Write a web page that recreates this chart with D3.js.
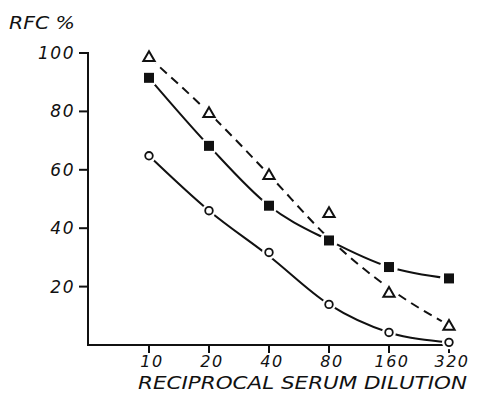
<!DOCTYPE html>
<html>
<head>
<meta charset="utf-8">
<script src="https://cdn.jsdelivr.net/npm/d3@7"></script>
<style>
  body { margin: 0; background: #fff; }
  text { font-family: "DejaVu Sans", sans-serif; font-style: italic; fill: #111; }
</style>
</head>
<body>
<svg id="chart" width="479" height="399"></svg>
<script>
const dilutions = [10, 20, 40, 80, 160, 320];
const yTicks = [20, 40, 60, 80, 100];

// measured points
const triangleValues = [98.7, 79.5, 58.3, 45.3, 18, 6.7];
const squareValues = [91.5, 68.2, 47.7, 35.8, 26.7, 22.8];
const circleValues = [64.8, 46, 31.7, 13.9, 4.3, 0.9];

// hand drawn curves, read at each dilution
const triangleCurve = [98.5, 79.5, 58.3, 36.5, 19.5, 6.7];
const squareCurve = [91.5, 68.2, 47.7, 35.8, 26.7, 22.8];
const circleCurve = [64.8, 46, 30.5, 13.9, 4.3, 0.9];

const svg = d3.select("#chart");
const ink = "#111";

const x = d3.scaleLog().base(2).domain([10, 320]).range([149, 449]);
const y = d3.scaleLinear().domain([0, 100]).range([345, 53]);
const x0 = 88;

// axes
const axisX = svg.append("g").attr("transform", "translate(0," + y(0) + ")");
axisX.append("line").attr("x1", x0 - 1).attr("x2", x(320) + 1)
  .attr("stroke", ink).attr("stroke-width", 2);
axisX.selectAll("line.tick").data(dilutions).enter().append("line")
  .attr("class", "tick")
  .attr("x1", d => x(d)).attr("x2", d => x(d))
  .attr("y1", 0).attr("y2", 8)
  .attr("stroke", ink).attr("stroke-width", 2);
axisX.selectAll("text").data(dilutions).enter().append("text")
  .attr("x", d => x(d) + 3).attr("y", 22)
  .attr("text-anchor", "middle")
  .style("font-size", "16px").style("letter-spacing", "1.5px")
  .text(d => d);

const axisY = svg.append("g").attr("transform", "translate(" + x0 + ",0)");
axisY.append("line").attr("y1", y(100) - 1).attr("y2", y(0) + 1)
  .attr("stroke", ink).attr("stroke-width", 2);
axisY.selectAll("line.tick").data(yTicks).enter().append("line")
  .attr("class", "tick")
  .attr("x1", -9).attr("x2", 0)
  .attr("y1", d => y(d)).attr("y2", d => y(d))
  .attr("stroke", ink).attr("stroke-width", 2);
axisY.selectAll("text").data(yTicks).enter().append("text")
  .attr("x", -13).attr("y", d => y(d) + 6)
  .attr("text-anchor", "end")
  .style("font-size", "17px").style("letter-spacing", "1.5px")
  .text(d => d);

svg.append("text").attr("x", 9).attr("y", 29)
  .attr("textLength", 66).attr("lengthAdjust", "spacingAndGlyphs")
  .style("font-size", "17px").text("RFC %");

svg.append("text").attr("x", 138).attr("y", 389)
  .attr("textLength", 329).attr("lengthAdjust", "spacingAndGlyphs")
  .style("font-size", "17px").text("RECIPROCAL SERUM DILUTION");

// curves
const line = d3.line()
  .x((d, i) => x(dilutions[i]))
  .y(d => y(d))
  .curve(d3.curveMonotoneX);

const curves = [
  { values: triangleCurve, dash: "9,6" },
  { values: squareCurve, dash: null },
  { values: circleCurve, dash: null }
];
svg.selectAll("path.curve").data(curves).enter().append("path")
  .attr("class", "curve")
  .attr("d", d => line(d.values))
  .attr("fill", "none").attr("stroke", ink).attr("stroke-width", 2)
  .attr("stroke-dasharray", d => d.dash);

// white gaps around markers
const tri = d3.symbol().type(d3.symbolTriangle).size(55);
function halo(values, r, dy) {
  svg.append("g").selectAll("circle").data(values).enter().append("circle")
    .attr("cx", (d, i) => x(dilutions[i]))
    .attr("cy", d => y(d) + (dy || 0))
    .attr("r", r).attr("fill", "#fff");
}
halo(triangleValues, 9, 1);
halo(squareValues, 9);
halo(circleValues, 7);

// markers
svg.append("g").selectAll("path").data(triangleValues).enter().append("path")
  .attr("d", tri)
  .attr("transform", (d, i) => "translate(" + x(dilutions[i]) + "," + (y(d) + 1) + ")")
  .attr("fill", "#fff").attr("stroke", ink).attr("stroke-width", 2);

svg.append("g").selectAll("rect").data(squareValues).enter().append("rect")
  .attr("x", (d, i) => x(dilutions[i]) - 5)
  .attr("y", d => y(d) - 5)
  .attr("width", 10).attr("height", 10)
  .attr("fill", ink);

svg.append("g").selectAll("circle").data(circleValues).enter().append("circle")
  .attr("cx", (d, i) => x(dilutions[i]))
  .attr("cy", d => y(d))
  .attr("r", 3.8)
  .attr("fill", "#fff").attr("stroke", ink).attr("stroke-width", 1.8);
</script>
</body>
</html>
